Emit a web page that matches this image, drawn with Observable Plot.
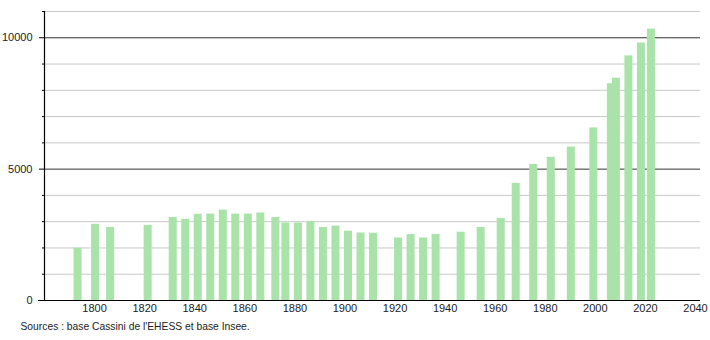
<!DOCTYPE html>
<html>
<head>
<meta charset="utf-8">
<script src="https://cdn.jsdelivr.net/npm/d3@7"></script>
<script src="https://cdn.jsdelivr.net/npm/@observablehq/plot@0.6"></script>
<style>
  html, body { margin: 0; padding: 0; background: #fff; }
</style>
</head>
<body>
<div id="chart"></div>
<script>
const years = [1793,1800,1806,1821,1831,1836,1841,1846,1851,1856,1861,1866,1872,1876,1881,1886,1891,1896,1901,1906,1911,1921,1926,1931,1936,1946,1954,1962,1968,1975,1982,1990,1999,2006,2008,2013,2018,2022];
const population = [1990,2900,2780,2860,3160,3090,3280,3290,3440,3290,3290,3330,3160,2950,2950,3010,2780,2830,2640,2570,2560,2380,2510,2380,2510,2600,2780,3120,4460,5180,5450,5840,6570,8250,8460,9310,9800,10330];
const xTicks = [1800,1820,1840,1860,1880,1900,1920,1940,1960,1980,2000,2020,2040];
const yMajorTicks = [0,5000,10000];
const yMinorTicks = [1000,2000,3000,4000,6000,7000,8000,9000,11000];
const caption = "Sources : base Cassini de l'EHESS et base Insee.";

const data = years.map((year, i) => ({year, pop: population[i]}));

const chart = Plot.plot({
  width: 710,
  height: 340,
  marginLeft: 44,
  marginRight: 10,
  marginTop: 11,
  marginBottom: 40,
  style: {fontFamily: "'Liberation Sans', Arial, sans-serif", fontSize: "11px", color: "#222", background: "#fff"},
  x: {domain: [1780, 2042]},
  y: {domain: [0, 11000]},
  marks: [
    Plot.ruleY(yMinorTicks, {stroke: "#c8c8c8", strokeWidth: 1}),
    Plot.ruleY([5000, 10000], {stroke: "#333", strokeWidth: 1}),
    Plot.rectY(data, {x1: d => d.year - 1.2, x2: d => d.year + 2, y: "pop", fill: "#aae3aa"}),
    Plot.axisY(yMinorTicks, {tickSize: 2, tickFormat: () => "", stroke: "#000", label: null}),
    Plot.axisY(yMajorTicks, {tickSize: 5, tickPadding: 7, tickFormat: d => String(d), stroke: "#000", fill: "#222", label: null}),
    Plot.axisX(xTicks, {tickSize: 0, tickPadding: 4, tickFormat: d => String(d), fill: "#222", label: null}),
    Plot.ruleX([1780], {y1: 0, y2: 11000, stroke: "#000", strokeWidth: 1.2}),
    Plot.ruleY([0], {x1: 1777.6, x2: 2042, stroke: "#000", strokeWidth: 1.2}),
    Plot.text([caption], {frameAnchor: "bottom-left", dx: -24, dy: 29, textAnchor: "start", fill: "#222", fontSize: 10.3})
  ]
});
document.getElementById("chart").appendChild(chart);
</script>
</body>
</html>
